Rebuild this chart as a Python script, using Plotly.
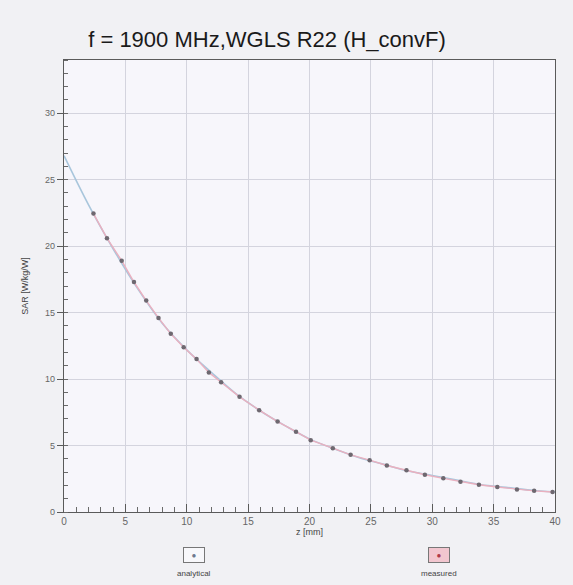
import plotly.graph_objects as go

# ---- data ----
z_analytical = [0, 2, 4, 6, 8, 10, 12, 14, 16, 18, 20, 22, 24, 26, 28, 30, 32, 34, 36, 38, 40]
sar_analytical = [26.8, 23.1, 19.8, 16.8, 14.2, 12.2, 10.5, 8.9, 7.6, 6.5, 5.5, 4.75, 4.1,
                  3.6, 3.1, 2.75, 2.4, 2.05, 1.85, 1.65, 1.5]

z_measured = [2.4, 3.5, 4.7, 5.7, 6.7, 7.7, 8.7, 9.75, 10.8, 11.8, 12.8, 14.3, 15.9, 17.4,
              18.9, 20.1, 21.9, 23.35, 24.9, 26.3, 27.9, 29.4, 30.9, 32.3, 33.8, 35.3,
              36.9, 38.3, 39.8]
sar_measured = [22.45, 20.6, 18.9, 17.3, 15.9, 14.6, 13.4, 12.4, 11.5, 10.5, 9.76, 8.66,
                7.66, 6.8, 6.04, 5.4, 4.8, 4.3, 3.9, 3.5, 3.14, 2.8, 2.53, 2.28, 2.05,
                1.88, 1.7, 1.59, 1.5]

title_text = "f = 1900 MHz,WGLS R22 (H_convF)"
x_title = "z [mm]"
y_title = "SAR [W/kg/W]"
legend_names = ["analytical", "measured"]

x_ticks = [0, 5, 10, 15, 20, 25, 30, 35, 40]
y_ticks = [0, 5, 10, 15, 20, 25, 30]

# ---- figure ----
fig = go.Figure()
fig.add_trace(go.Scatter(
    x=z_analytical, y=sar_analytical, mode="lines", name=legend_names[0],
    line=dict(color="#a9c6dc", width=1.6, shape="spline"), showlegend=False))
fig.add_trace(go.Scatter(
    x=z_measured, y=sar_measured, mode="lines+markers", name=legend_names[1],
    line=dict(color="#eab0bf", width=1.4),
    marker=dict(color="#6e6870", size=4.5), showlegend=False))

font_main = "Liberation Sans, Arial, sans-serif"

fig.update_layout(
    width=573, height=585,
    margin=dict(l=64, r=13, t=60, b=73),
    paper_bgcolor="#f1f1f4",
    plot_bgcolor="#f7f6fb",
    font=dict(family=font_main, size=9, color="#555555"),
    title=dict(text=title_text, x=0.466, xanchor="center", y=0.932, yanchor="middle",
               font=dict(family=font_main, size=22, color="#1a1a1a")),
    xaxis=dict(
        range=[0, 40], tickvals=x_ticks, ticktext=[str(v) for v in x_ticks],
        showline=True, linecolor="#5a5a5a", linewidth=1.2, mirror=True,
        showgrid=True, gridcolor="#d4d4de", gridwidth=1,
        ticks="inside", ticklen=8, tickcolor="#5a5a5a",
        minor=dict(dtick=1, ticks="inside", ticklen=5, tickcolor="#6a6a6a", showgrid=False),
        zeroline=False,
        title=dict(text=x_title, standoff=2, font=dict(size=9, color="#444444")),
        tickfont=dict(size=10, color="#666666"),
    ),
    yaxis=dict(
        range=[0, 34], tickvals=y_ticks, ticktext=[str(v) for v in y_ticks],
        showline=True, linecolor="#5a5a5a", linewidth=1.2, mirror=True,
        showgrid=True, gridcolor="#d4d4de", gridwidth=1,
        ticks="outside", ticklen=6, tickcolor="#5a5a5a",
        minor=dict(dtick=1, ticks="inside", ticklen=4, tickcolor="#6a6a6a", showgrid=False),
        zeroline=False,
        title=dict(text=y_title, standoff=14, font=dict(size=9, color="#444444")),
        tickfont=dict(size=9, color="#666666"),
    ),
)

# legend drawn as boxed symbols with labels beneath (as in the reference)
legend_items = [
    (0.264, "#f8f8fb", "#6e7a90", legend_names[0]),
    (0.764, "#f2c6cf", "#b03a4a", legend_names[1]),
]
for xp, bg, dot, name in legend_items:
    fig.add_annotation(xref="paper", yref="paper", x=xp, y=-0.095, xanchor="center",
                       yanchor="middle", text="\u25cf", showarrow=False,
                       font=dict(size=8, color=dot), bgcolor=bg,
                       bordercolor="#777777", borderwidth=1, borderpad=1,
                       width=18, height=12)
    fig.add_annotation(xref="paper", yref="paper", x=xp, y=-0.136, xanchor="center",
                       yanchor="middle", text=name, showarrow=False,
                       font=dict(size=8, color="#444444"))

fig.write_html("out.html", config={"displayModeBar": False},
               post_script="document.body.style.margin='0';")
